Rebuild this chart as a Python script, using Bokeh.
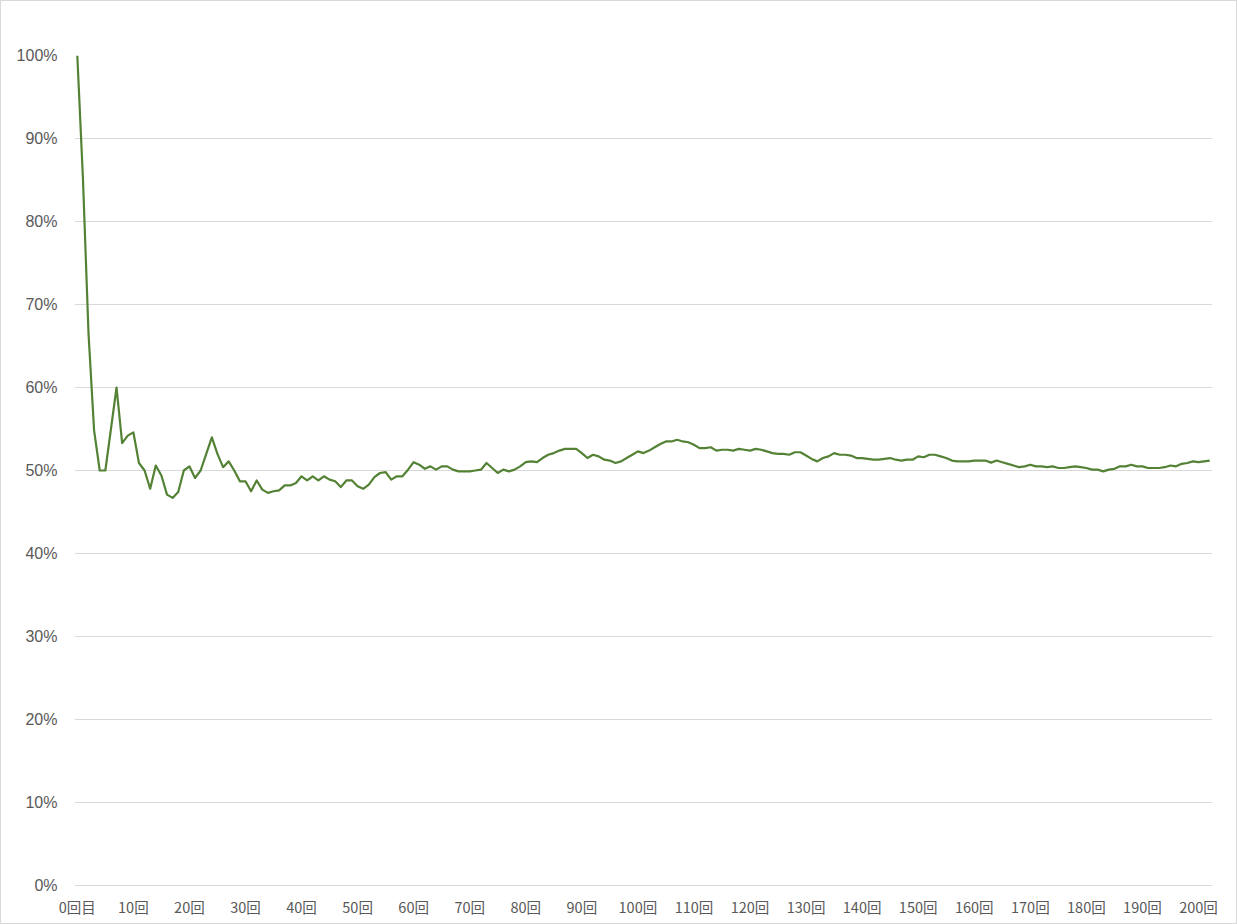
from bokeh.plotting import figure
from bokeh.models import Range1d, FixedTicker, PrintfTickFormatter
from bokeh.embed import file_html
from bokeh.resources import INLINE

# running rate (%) per trial, trials 0..202
rate = [
    100.0, 85.3, 66.5, 54.8, 50.0, 50.0, 55.0, 60.0, 53.3, 54.2,
    54.6, 50.9, 50.0, 47.8, 50.6, 49.4, 47.1, 46.7, 47.4, 50.0,
    50.5, 49.1, 50.0, 52.0, 54.0, 52.0, 50.4, 51.1, 50.0, 48.7,
    48.7, 47.5, 48.8, 47.7, 47.3, 47.5, 47.6, 48.2, 48.2, 48.5,
    49.3, 48.8, 49.3, 48.8, 49.3, 48.9, 48.7, 48.0, 48.8, 48.8,
    48.1, 47.8, 48.3, 49.2, 49.7, 49.8, 48.9, 49.3, 49.3, 50.1,
    51.0, 50.7, 50.2, 50.5, 50.1, 50.5, 50.5, 50.1, 49.9, 49.9,
    49.9, 50.0, 50.1, 50.9, 50.3, 49.7, 50.1, 49.9, 50.1, 50.5,
    51.0, 51.1, 51.0, 51.5, 51.9, 52.1, 52.4, 52.6, 52.6, 52.6,
    52.1, 51.5, 51.9, 51.7, 51.3, 51.2, 50.9, 51.1, 51.5, 51.9,
    52.3, 52.1, 52.4, 52.8, 53.2, 53.5, 53.5, 53.7, 53.5, 53.4,
    53.1, 52.7, 52.7, 52.8, 52.4, 52.5, 52.5, 52.4, 52.6, 52.5,
    52.4, 52.6, 52.5, 52.3, 52.1, 52.0, 52.0, 51.9, 52.2, 52.2,
    51.8, 51.4, 51.1, 51.5, 51.7, 52.1, 51.9, 51.9, 51.8, 51.5,
    51.5, 51.4, 51.3, 51.3, 51.4, 51.5, 51.3, 51.2, 51.3, 51.3,
    51.7, 51.6, 51.9, 51.9, 51.7, 51.5, 51.2, 51.1, 51.1, 51.1,
    51.2, 51.2, 51.2, 50.95, 51.2, 51.0, 50.8, 50.6, 50.4, 50.5,
    50.7, 50.5, 50.5, 50.4, 50.5, 50.3, 50.3, 50.4, 50.5, 50.4,
    50.3, 50.1, 50.1, 49.9, 50.1, 50.2, 50.5, 50.5, 50.7, 50.5,
    50.5, 50.3, 50.3, 50.3, 50.4, 50.6, 50.5, 50.8, 50.9, 51.1,
    51.0, 51.1, 51.2,
]
trials = list(range(len(rate)))

x_tick_pos = list(range(0, 201, 10))
x_tick_labels = ["0回目"] + [f"{n}回" for n in range(10, 201, 10)]
y_ticks = list(range(0, 101, 10))

p = figure(
    width=1235, height=922,
    frame_width=1138, frame_height=831,
    min_border_left=73, min_border_top=54, min_border_right=24, min_border_bottom=37,
    output_backend="svg", toolbar_location=None,
    x_range=Range1d(-0.5, len(rate) - 0.5), y_range=Range1d(-0.12, 100),
)
p.styles = {"border": "1px solid #d9d9d9"}
p.outline_line_color = None
p.background_fill_color = "white"
p.border_fill_color = "white"

p.line(trials, rate, line_color="#548235", line_width=2.2, line_join="round")

p.xgrid.visible = False
p.ygrid.grid_line_color = "#d9d9d9"
p.ygrid.grid_line_width = 1
p.ygrid.ticker = FixedTicker(ticks=y_ticks)

p.yaxis.ticker = FixedTicker(ticks=y_ticks)
p.yaxis.formatter = PrintfTickFormatter(format="%d%%")
p.yaxis.axis_line_color = None
p.yaxis.major_tick_line_color = None
p.yaxis.minor_tick_line_color = None
p.yaxis.major_tick_out = 0
p.yaxis.major_tick_in = 0
p.yaxis.major_label_standoff = 17
p.yaxis.major_label_text_font = "Liberation Sans"
p.yaxis.major_label_text_font_size = "16px"
p.yaxis.major_label_text_color = "#595959"

p.xaxis.ticker = FixedTicker(ticks=x_tick_pos)
p.xaxis.major_label_overrides = {k: v for k, v in zip(x_tick_pos, x_tick_labels)}
p.xaxis.axis_line_color = None
p.xaxis.major_tick_line_color = None
p.xaxis.minor_tick_line_color = None
p.xaxis.major_tick_out = 0
p.xaxis.major_tick_in = 0
p.xaxis.major_label_standoff = 9
p.xaxis.major_label_text_font = "Noto Sans CJK JP"
p.xaxis.major_label_text_font_size = "14.5px"
p.xaxis.major_label_text_color = "#595959"

open("out.html", "w").write(file_html(p, INLINE))
